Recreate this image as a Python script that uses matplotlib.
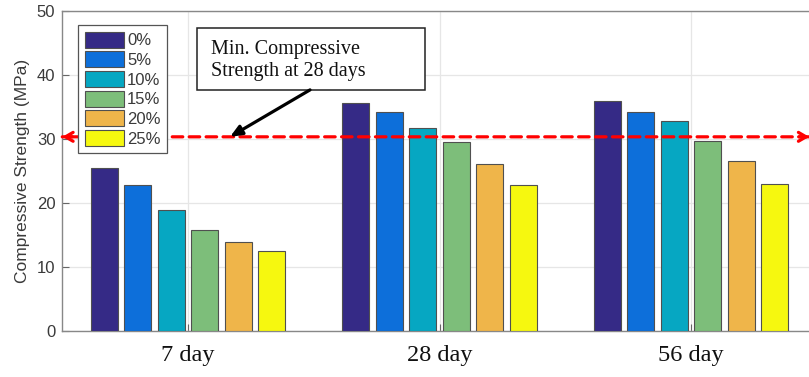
import matplotlib
matplotlib.use("Agg")
import matplotlib.pyplot as plt
from matplotlib.patches import Rectangle
import numpy as np

groups = ["7 day", "28 day", "56 day"]
series_labels = ["0%", "5%", "10%", "15%", "20%", "25%"]
s0 = [25.5, 35.7, 36.0]
s5 = [22.9, 34.2, 34.2]
s10 = [18.9, 31.7, 32.9]
s15 = [15.9, 29.6, 29.8]
s20 = [13.9, 26.1, 26.6]
s25 = [12.6, 22.9, 23.0]
series_values = [s0, s5, s10, s15, s20, s25]
min_strength = 30.4
yticks = [0, 10, 20, 30, 40, 50]

colors = ["#352a86", "#0d6fda", "#06a7c2", "#7dbe7a", "#efb54a", "#f6f80f"]

fig = plt.figure(figsize=(8.09, 3.77), dpi=100)
ax = fig.add_axes([0.077, 0.1207, 0.9326, 0.8493])

x = np.arange(1, len(groups) + 1)
n = len(series_values)
step = 0.8 / n
width = step * 0.8
for i, (vals, lab, c) in enumerate(zip(series_values, series_labels, colors)):
    offs = (i - (n - 1) / 2) * step
    ax.bar(x + offs, vals, width=width, color=c, edgecolor="#505050",
           linewidth=0.8, label=lab, zorder=3)

ax.set_xlim(0.5, 3.5)
ax.set_ylim(0, 50)
ax.set_yticks(yticks)
ax.set_xticks(x)
ax.set_xticklabels(groups, family="Liberation Serif", fontsize=17.5, color="#111111")
ax.tick_params(axis="x", direction="in", length=5, pad=10, color="#666666")
ax.tick_params(axis="y", direction="in", length=5, pad=5, labelsize=12,
               labelcolor="#3a3a3a", color="#666666")
for lbl in ax.get_yticklabels():
    lbl.set_family("Liberation Sans")
ax.set_ylabel("Compressive Strength (MPa)", family="Liberation Sans",
              fontsize=12.5, color="#3a3a3a", labelpad=5)
ax.grid(True, color="#e6e6e6", linewidth=0.9, zorder=0)
ax.set_axisbelow(True)
for sp in ax.spines.values():
    sp.set_color("#888888")
    sp.set_linewidth(1.0)

leg = ax.legend(loc="upper left", bbox_to_anchor=(0.0208, 0.957), borderaxespad=0,
                prop={"family": "Liberation Sans", "size": 12},
                handlelength=2.35, handleheight=1.1, handletextpad=0.2,
                labelspacing=0.18, borderpad=0.4, fancybox=False,
                edgecolor="#555555", framealpha=1)
leg.get_frame().set_linewidth(0.9)
for t in leg.get_texts():
    t.set_color("#3a3a3a")

# threshold dashed line with open arrowheads at both ends
ax.annotate("", xy=(0.5, min_strength), xytext=(3.47, min_strength),
            arrowprops=dict(arrowstyle="-", color="#ff0000", lw=2.3,
                            linestyle=(0, (3.3, 2.0)), shrinkA=0, shrinkB=0),
            annotation_clip=False, zorder=5)
for tip, tail in [(0.5, 0.54), (3.47, 3.43)]:
    ax.annotate("", xy=(tip, min_strength), xytext=(tail, min_strength),
                arrowprops=dict(arrowstyle="->,head_length=0.55,head_width=0.32",
                                color="#ff0000", lw=2.3, shrinkA=0, shrinkB=0),
                annotation_clip=False, zorder=5)

# annotation box
ax.add_patch(Rectangle((1.037, 37.73), 1.942 - 1.037, 47.42 - 37.73,
                       facecolor="white", edgecolor="#222222", linewidth=1.1,
                       zorder=6))
ax.text(1.090, 42.3, "Min. Compressive\nStrength at 28 days",
        family="Liberation Serif", fontsize=14.5, color="#111111",
        ha="left", va="center", linespacing=1.25, zorder=7)
ax.annotate("", xy=(1.167, min_strength), xytext=(1.485, 37.73),
            arrowprops=dict(arrowstyle="-|>,head_length=0.7,head_width=0.3",
                            color="black", lw=2.3, shrinkA=0, shrinkB=0),
            zorder=6)

fig.savefig("out.png", dpi=100)
